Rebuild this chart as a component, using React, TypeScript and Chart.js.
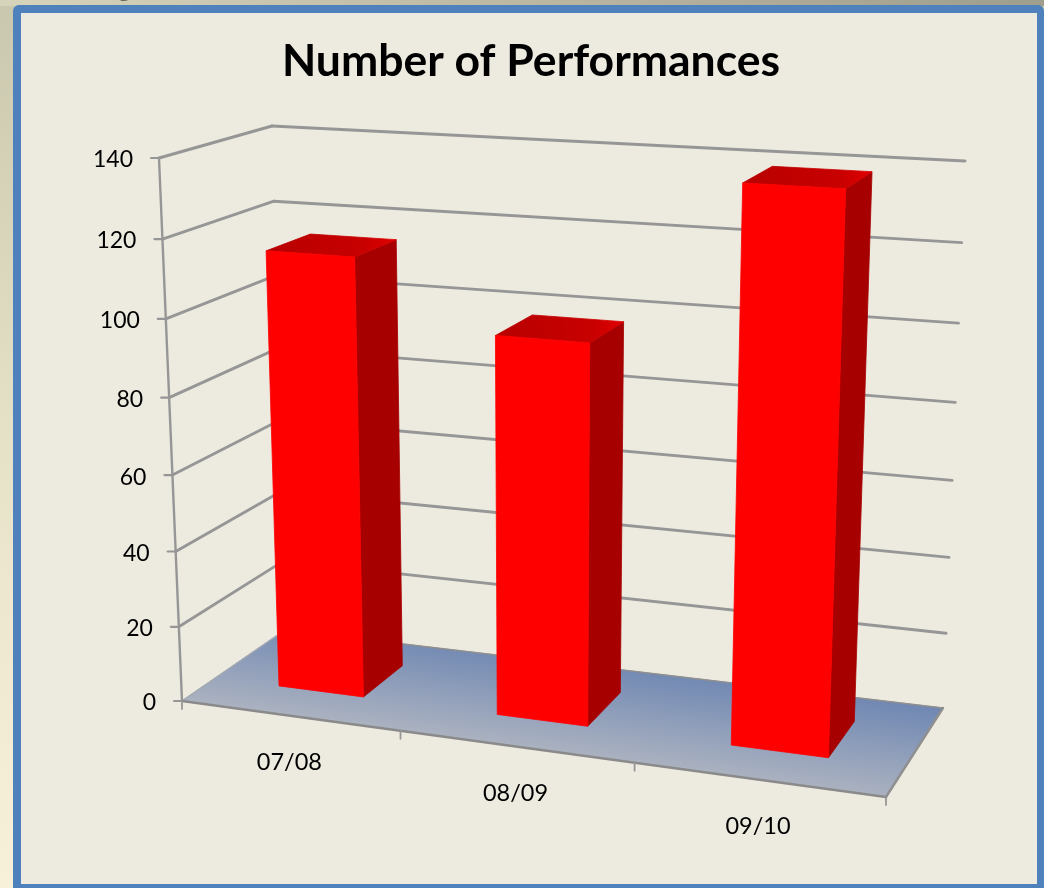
import React, { useEffect, useRef } from "react";
import { Chart, registerables } from "chart.js";

Chart.register(...registerables);

const categories = ["07/08", "08/09", "09/10"];
const performances = [115, 98, 139];
const yMax = 140;
const yStep = 20;
const chartTitle = "Number of Performances";

// Screen corners of the 3D plot box: [horizontal][vertical][depth]
const box = {
  fbl: [182, 701], fbr: [886, 797], ftl: [159, 158], ftr: [908, 203],
  bbl: [285, 630], bbr: [943, 708], btl: [272, 126], btr: [965, 161],
};
const persp = { u: -0.1, v: -0.05, z: 0.2 };
const barDepth = [0.29, 0.71];
const font = "Lato, 'Open Sans', sans-serif";
const gridColor = "#969696";

function project(u: number, v: number, z: number): [number, number] {
  const corners: [number, number, number, number[]][] = [
    [0, 0, 0, box.fbl], [1, 0, 0, box.fbr], [0, 1, 0, box.ftl], [1, 1, 0, box.ftr],
    [0, 0, 1, box.bbl], [1, 0, 1, box.bbr], [0, 1, 1, box.btl], [1, 1, 1, box.btr],
  ];
  let sx = 0, sy = 0, sw = 0;
  for (const [cu, cv, cz, p] of corners) {
    const w = (1 + persp.u * cu) * (1 + persp.v * cv) * (1 + persp.z * cz);
    const b = (cu ? u : 1 - u) * (cv ? v : 1 - v) * (cz ? z : 1 - z) * w;
    sx += b * p[0]; sy += b * p[1]; sw += b;
  }
  return [sx / sw, sy / sw];
}

function poly(ctx: CanvasRenderingContext2D, pts: [number, number][], fill: string | CanvasGradient) {
  ctx.beginPath();
  pts.forEach((p, i) => (i ? ctx.lineTo(p[0], p[1]) : ctx.moveTo(p[0], p[1])));
  ctx.closePath();
  ctx.fillStyle = fill;
  ctx.fill();
  // A hairline in the fill colour closes the seams between adjoining faces
  ctx.strokeStyle = fill;
  ctx.lineWidth = 0.8;
  ctx.stroke();
}

function segment(ctx: CanvasRenderingContext2D, a: [number, number], b: [number, number], width = 2.9, color = gridColor) {
  ctx.beginPath();
  ctx.moveTo(a[0], a[1]);
  ctx.lineTo(b[0], b[1]);
  ctx.lineWidth = width;
  ctx.strokeStyle = color;
  ctx.stroke();
}

// Slide backdrop and the framed panel behind the chart
const framePlugin = {
  id: "frame",
  beforeDraw(chart: any) {
    const ctx: CanvasRenderingContext2D = chart.ctx;
    const { width, height } = chart;
    ctx.save();
    const bg = ctx.createLinearGradient(0, 0, 0, height);
    bg.addColorStop(0, "#c9c7ad");
    bg.addColorStop(0.5, "#e6e2c8");
    bg.addColorStop(1, "#f8f1da");
    ctx.fillStyle = bg;
    ctx.fillRect(0, 0, width, height);
    const top = ctx.createLinearGradient(0, 0, width, 0);
    top.addColorStop(0, "#d6d4ba");
    top.addColorStop(1, "#9f9d8c");
    ctx.fillStyle = top;
    ctx.fillRect(0, 0, width, 6);
    ctx.fillStyle = "#000";
    ctx.font = `700 46px ${font}`;
    ctx.textAlign = "center";
    ctx.textBaseline = "alphabetic";
    ctx.fillText("g", 125, -8);
    ctx.beginPath();
    ctx.roundRect(13, 5, width - 13, height + 20, 6);
    ctx.fillStyle = "#4f81bd";
    ctx.fill();
    ctx.fillStyle = "#edebe0";
    ctx.fillRect(21, 13, 1016, 871);
    ctx.restore();
  },
};

// Walls and floor of the 3D box, laid out from the value and category scales
const wallsPlugin = {
  id: "walls",
  beforeDatasetsDraw(chart: any) {
    const ctx: CanvasRenderingContext2D = chart.ctx;
    const { x: xs, y: ys } = chart.scales;
    const vOf = (value: number) => (ys.bottom - ys.getPixelForValue(value)) / (ys.bottom - ys.top);
    ctx.save();
    ctx.lineCap = "round";
    // Floor shading runs straight across its long axis, lighter towards the viewer
    const floor = ctx.createLinearGradient(534, 749, 547, 655);
    floor.addColorStop(0, "#abb2c0");
    floor.addColorStop(1, "#7088b3");
    poly(ctx, [project(0, 0, 0), project(1, 0, 0), project(1, 0, 1), project(0, 0, 1)], floor);

    ys.ticks.forEach((t: any) => {
      const v = vOf(t.value);
      const corner = project(0, v, 1);
      if (t.value > 0) {
        segment(ctx, project(0, v, 0), corner);
        segment(ctx, corner, project(1, v, 1));
      }
    });
    segment(ctx, project(0, 0, 0), project(0, 1, 0), 2.4);
    segment(ctx, project(0, 0, 0), project(0, 0, 1), 1.2, "#a4a8b0");
    segment(ctx, project(0, 0, 1), project(1, 0, 1), 1.6, "#8f8f8f");
    segment(ctx, project(1, 0, 1), project(1, 0, 0), 2.4, "#8f8f8f");
    segment(ctx, project(0, 0, 0), project(1, 0, 0), 2.6, "#8a8a8a");

    // Value axis ticks and labels
    ctx.fillStyle = "#000";
    ctx.font = `23px ${font}`;
    ctx.textAlign = "right";
    ctx.textBaseline = "middle";
    ys.ticks.forEach((t: any) => {
      const p = project(0, vOf(t.value), 0);
      segment(ctx, [p[0] - 8, p[1]], p, 2.2);
      ctx.fillStyle = "#000";
      ctx.fillText(String(t.value), p[0] - 26, p[1] + 2);
    });

    // Category axis ticks and labels
    const n = categories.length;
    for (let i = 0; i <= n; i++) {
      const p = project(i / n, 0, 0);
      segment(ctx, p, [p[0], p[1] + 8], 1.8);
    }
    ctx.font = `23.5px ${font}`;
    ctx.textAlign = "center";
    categories.forEach((label, i) => {
      const u = (xs.getPixelForValue(i) - xs.left) / (xs.right - xs.left);
      const p = project(u, 0, 0);
      ctx.fillStyle = "#000";
      ctx.fillText(label, p[0], p[1] + 47);
    });
    ctx.restore();
  },
};

// Each bar element is extruded into a box along the depth axis
const barsPlugin = {
  id: "bars3d",
  afterDatasetsDraw(chart: any) {
    const ctx: CanvasRenderingContext2D = chart.ctx;
    const { x: xs, y: ys } = chart.scales;
    const meta = chart.getDatasetMeta(0);
    const [z0, z1] = barDepth;
    ctx.save();
    meta.data.forEach((bar: any) => {
      const u0 = (bar.x - bar.width / 2 - xs.left) / (xs.right - xs.left);
      const u1 = (bar.x + bar.width / 2 - xs.left) / (xs.right - xs.left);
      const v = (ys.bottom - bar.y) / (ys.bottom - ys.top);
      const side: [number, number][] = [project(u1, 0, z0), project(u1, 0, z1), project(u1, v, z1), project(u1, v, z0)];
      poly(ctx, side, "#a60000");
      const topA = project(u0, v, z0);
      const topB = project(u1, v, z1);
      const topFill = ctx.createLinearGradient(topA[0], topA[1], topB[0], topB[1]);
      topFill.addColorStop(0, "#b80000");
      topFill.addColorStop(0.75, "#c80000");
      topFill.addColorStop(1, "#e00000");
      poly(ctx, [project(u0, v, z0), project(u1, v, z0), project(u1, v, z1), project(u0, v, z1)], topFill);
      poly(ctx, [project(u0, 0, z0), project(u1, 0, z0), project(u1, v, z0), project(u0, v, z0)], "#ff0000");
    });
    ctx.restore();
  },
};

export default function App() {
  const ref = useRef<HTMLCanvasElement>(null);
  useEffect(() => {
    document.body.style.margin = "0";
    const chart = new Chart(ref.current!, {
      type: "bar",
      data: {
        labels: categories,
        datasets: [{
          label: chartTitle,
          data: performances,
          backgroundColor: "rgba(0,0,0,0)",
          borderWidth: 0,
          categoryPercentage: 1,
          barPercentage: 0.395,
        }],
      },
      options: {
        responsive: false,
        animation: false,
        layout: { padding: { left: 18, right: 0, top: 0, bottom: 0 } },
        plugins: {
          legend: { display: false },
          tooltip: { enabled: false },
          title: {
            display: true,
            text: chartTitle,
            color: "#000",
            font: { family: font, size: 44.5, weight: "bold" },
            padding: { top: 35, bottom: 10 },
          },
        },
        scales: {
          x: { display: false },
          y: { display: false, min: 0, max: yMax, ticks: { stepSize: yStep } },
        },
      },
      plugins: [framePlugin, wallsPlugin, barsPlugin],
    } as any);
    return () => chart.destroy();
  }, []);
  return <canvas ref={ref} width={1044} height={888} style={{ display: "block" }} />;
}
